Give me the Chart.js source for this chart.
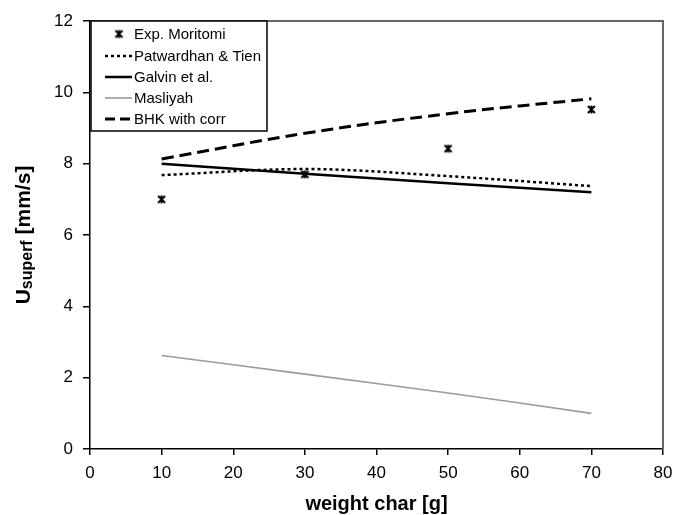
<!DOCTYPE html>
<html><head><meta charset="utf-8">
<script src="https://cdn.jsdelivr.net/npm/chart.js@4"></script>
<style>html,body{margin:0;padding:0;background:#fff}#wrap{width:675px;height:515px}</style>
</head><body><div id="wrap"><canvas id="c" width="675" height="515"></canvas></div>
<script>
const weights = [10, 30, 50, 70];
const expMoritomi = [7.0, 7.7, 8.42, 9.52];
const patwardhanTien = [7.68, 7.85, 7.65, 7.37];
const galvin = [8.0, 7.72, 7.45, 7.2];
const masliyah = [2.62, 2.1, 1.57, 1.0];
const bhkWithCorr = [8.13, 8.85, 9.4, 9.82];
const xTicks = [0, 10, 20, 30, 40, 50, 60, 70, 80];
const yTicks = [0, 2, 4, 6, 8, 10, 12];
const seriesLabels = ["Exp. Moritomi", "Patwardhan & Tien", "Galvin et al.", "Masliyah", "BHK with corr"];

const FONT = "'Liberation Sans', Arial, Helvetica, sans-serif";

function starMarker() {
  const c = document.createElement('canvas');
  c.width = 11; c.height = 11;
  const g = c.getContext('2d');
  g.strokeStyle = '#000'; g.lineWidth = 2;
  g.beginPath();
  g.moveTo(2, 2); g.lineTo(9, 9);
  g.moveTo(9, 2); g.lineTo(2, 9);
  g.moveTo(5.5, 1.5); g.lineTo(5.5, 9.5);
  g.stroke();
  return c;
}
const marker = starMarker();

const toXY = (arr) => weights.map((w, i) => ({x: w, y: arr[i]}));

const datasets = [
  {label: seriesLabels[0], data: toXY(expMoritomi), showLine: false, pointStyle: marker, pointRadius: 5, borderColor: '#000', backgroundColor: '#000'},
  {label: seriesLabels[1], data: toXY(patwardhanTien), borderColor: '#000', borderWidth: 2.5, borderDash: [3, 3], tension: 0.4, cubicInterpolationMode: 'monotone', pointRadius: 0, fill: false},
  {label: seriesLabels[2], data: toXY(galvin), borderColor: '#000', borderWidth: 2.5, tension: 0.4, pointRadius: 0, fill: false},
  {label: seriesLabels[3], data: toXY(masliyah), borderColor: '#9a9a9a', borderWidth: 1.6, tension: 0.4, pointRadius: 0, fill: false},
  {label: seriesLabels[4], data: toXY(bhkWithCorr), borderColor: '#000', borderWidth: 3, borderDash: [12, 6], tension: 0.4, pointRadius: 0, fill: false}
];

const decor = {
  id: 'decor',
  afterDraw(chart) {
    const ctx = chart.ctx, a = chart.chartArea;
    ctx.save();
    // frame top & right
    ctx.strokeStyle = '#666'; ctx.lineWidth = 2;
    ctx.beginPath();
    ctx.moveTo(a.left, a.top); ctx.lineTo(a.right, a.top); ctx.lineTo(a.right, a.bottom);
    ctx.stroke();
    // legend
    const lx = 91, ly = a.top, lw = 176, lh = 110;
    ctx.fillStyle = '#fff';
    ctx.fillRect(lx, ly, lw, lh);
    ctx.strokeStyle = '#000'; ctx.lineWidth = 1.5;
    ctx.strokeRect(lx, ly, lw, lh);
    ctx.font = '15px ' + FONT;
    ctx.textBaseline = 'middle'; ctx.textAlign = 'left';
    const rows = [34, 56, 77, 98, 119];
    chart.data.datasets.forEach((ds, i) => {
      const y = rows[i];
      if (i === 0) {
        ctx.drawImage(ds.pointStyle, 119 - 5.5, y - 5.5);
      } else {
        ctx.beginPath();
        ctx.strokeStyle = ds.borderColor;
        ctx.lineWidth = ds.borderWidth;
        ctx.setLineDash(ds.borderDash ? (i === 4 ? [10, 5] : ds.borderDash) : []);
        ctx.moveTo(105, y); ctx.lineTo(132, y);
        ctx.stroke();
        ctx.setLineDash([]);
      }
      ctx.fillStyle = '#000';
      ctx.fillText(ds.label, 134, y + 1);
    });
    // y title with subscript
    const big = 'bold 21px ' + FONT, small = 'bold 16px ' + FONT;
    ctx.font = big; const w1 = ctx.measureText('U').width; const w3 = ctx.measureText(' [mm/s]').width;
    ctx.font = small; const w2 = ctx.measureText('superf').width;
    const total = w1 + w2 + w3;
    ctx.translate(30, 235);
    ctx.rotate(-Math.PI / 2);
    ctx.textBaseline = 'alphabetic'; ctx.textAlign = 'left';
    let x0 = -total / 2;
    ctx.font = big; ctx.fillText('U', x0, 0);
    ctx.font = small; ctx.fillText('superf', x0 + w1, 2);
    ctx.font = big; ctx.fillText(' [mm/s]', x0 + w1 + w2, 0);
    ctx.restore();
  }
};

new Chart(document.getElementById('c'), {
  type: 'line',
  data: {datasets},
  options: {
    responsive: false, animation: false,
    layout: {padding: {top: 21, right: 0, left: 0, bottom: 0}},
    plugins: {legend: {display: false}, tooltip: {enabled: false}, title: {display: false}},
    scales: {
      x: {
        type: 'linear', min: 0, max: 80,
        afterBuildTicks: (s) => { s.ticks = xTicks.map(v => ({value: v})); },
        afterFit: (s) => { s.height = 66; s.paddingRight = 12; s.paddingLeft = 0; },
        grid: {drawOnChartArea: false, drawTicks: true, tickLength: 6, color: '#000', lineWidth: 1.5},
        border: {display: true, color: '#000', width: 1.5},
        ticks: {color: '#000', font: {family: FONT, size: 17}, padding: 8, maxRotation: 0},
        title: {display: true, text: 'weight char [g]', color: '#000', font: {family: FONT, size: 20, weight: 'bold'}, padding: {top: 0, bottom: -1}}
      },
      y: {
        type: 'linear', min: 0, max: 12,
        afterBuildTicks: (s) => { s.ticks = yTicks.map(v => ({value: v})); },
        afterFit: (s) => { s.width = 90; },
        grid: {drawOnChartArea: false, drawTicks: true, tickLength: 7, color: '#000', lineWidth: 1.5},
        border: {display: true, color: '#000', width: 1.5},
        ticks: {color: '#000', font: {family: FONT, size: 17}, padding: 10}
      }
    }
  },
  plugins: [decor]
});
</script></body></html>
